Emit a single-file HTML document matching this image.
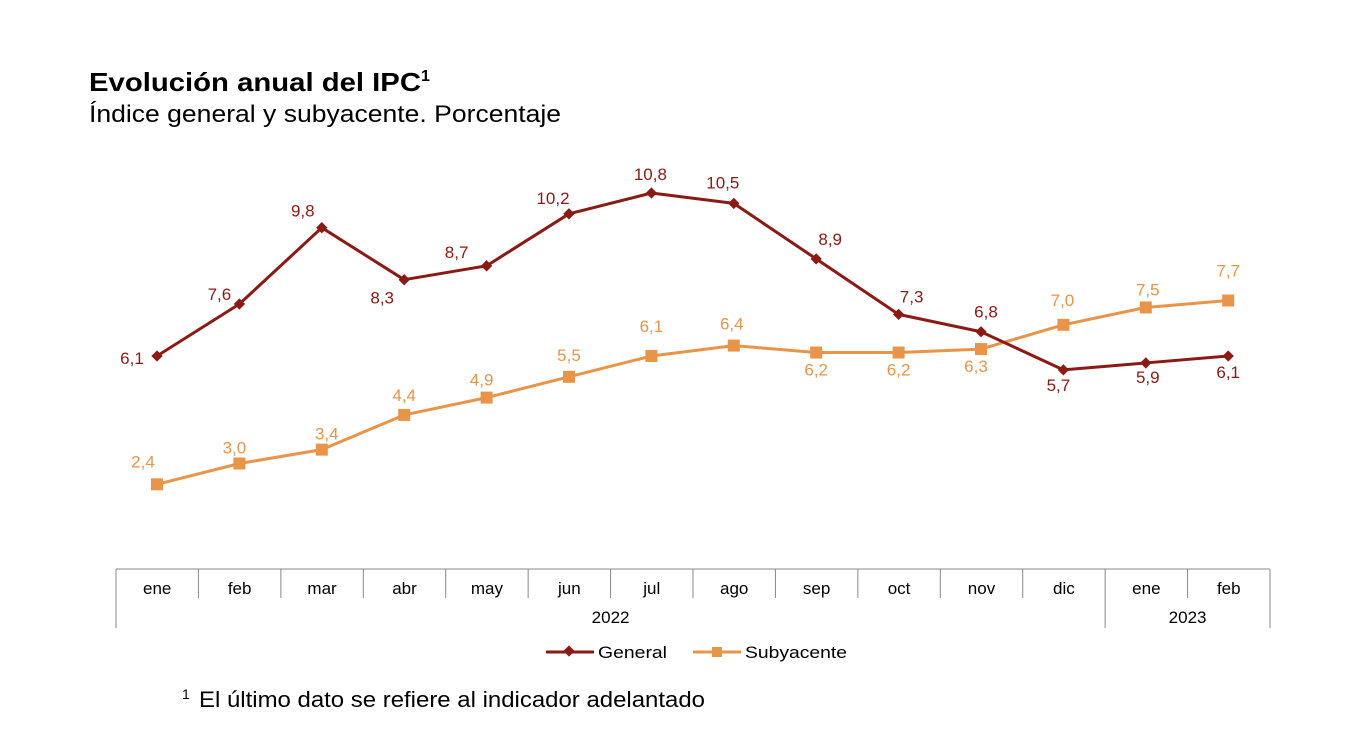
<!DOCTYPE html>
<html><head><meta charset="utf-8"><style>
body{margin:0;background:#fff;width:1367px;height:730px;overflow:hidden;font-family:"Liberation Sans",sans-serif;}
svg{position:absolute;left:0;top:0}
</style></head><body>
<svg width="1367" height="730">
<text x="89" y="91" font-size="26" font-weight="bold" fill="#000"><tspan textLength="332" lengthAdjust="spacingAndGlyphs">Evolución anual del IPC</tspan><tspan font-size="16" dy="-10">1</tspan></text>
<text x="89" y="122" font-size="24" fill="#000" textLength="472" lengthAdjust="spacingAndGlyphs">Índice general y subyacente. Porcentaje</text>
<g id="axis"></g>
<g id="lines"></g>
<g>
<g><line x1="546" y1="652" x2="594" y2="652" stroke="#8c1a14" stroke-width="3"/><rect x="565" y="647" width="8" height="8" fill="#8c1a14" transform="rotate(45 569 651)"/><text x="598" y="658" font-size="17" textLength="69" lengthAdjust="spacingAndGlyphs">General</text></g>
<g><line x1="693" y1="652" x2="741" y2="652" stroke="#e8954a" stroke-width="3"/><rect x="712" y="647" width="10" height="10" fill="#e8954a"/><text x="745" y="658" font-size="17" textLength="102" lengthAdjust="spacingAndGlyphs">Subyacente</text></g>
</g>
<text x="182" y="707" font-size="14" transform="translate(0,-8)">1</text>
<text x="199" y="707" font-size="22" textLength="506" lengthAdjust="spacingAndGlyphs">El último dato se refiere al indicador adelantado</text>
</svg>
<script>
const months=["ene","feb","mar","abr","may","jun","jul","ago","sep","oct","nov","dic","ene","feb"];
const general=[6.1,7.6,9.8,8.3,8.7,10.2,10.8,10.5,8.9,7.3,6.8,5.7,5.9,6.1];
const subyacente=[2.4,3.0,3.4,4.4,4.9,5.5,6.1,6.4,6.2,6.2,6.3,7.0,7.5,7.7];
const years=["2022","2023"];
const genOff=[[-25,8],[-20,-4],[-19,-11],[-22,24],[-30,-8],[-16,-10],[-1,-13],[-11,-15],[14,-14],[13,-12],[5,-14],[-5,21],[2,20],[0,22]];
const subOff=[[-14,-17],[-5,-10],[5,-10],[0,-14],[-5,-12],[0,-16],[0,-24],[-2,-16],[0,23],[0,23],[-5,23],[-1,-19],[2,-12],[0,-24]];
const svgNS="http://www.w3.org/2000/svg";
const x0=157,dx=82.4;
const xs=i=>x0+i*dx;
const ys=v=>356-(v-6.1)*34.68;
function el(tag,attrs,parent){const e=document.createElementNS(svgNS,tag);for(const k in attrs)e.setAttribute(k,attrs[k]);parent.appendChild(e);return e;}
const ax=document.getElementById('axis');
const L=116,R=1270,cw=(R-L)/months.length;
el('line',{x1:L,y1:569,x2:R,y2:569,stroke:'#888','stroke-width':1},ax);
for(let i=0;i<=months.length;i++){
  const x=L+i*cw;
  const full=(i==0||i==12||i==14);
  el('line',{x1:x,y1:569,x2:x,y2:full?628:598,stroke:'#888','stroke-width':1},ax);
}
months.forEach((m,i)=>{const t=el('text',{x:L+(i+0.5)*cw,y:594,'font-size':17,'text-anchor':'middle',fill:'#000'},ax);t.textContent=m;

});
[[0,12],[12,14]].forEach((r,k)=>{const t=el('text',{x:L+(r[0]+r[1])/2*cw,y:623,'font-size':17,'text-anchor':'middle',fill:'#000'},ax);t.textContent=years[k];

});
const g=document.getElementById('lines');
function series(vals,color,off,name,marker){
  const p=el('polyline',{points:vals.map((v,i)=>xs(i)+','+ys(v)).join(' '),fill:'none',stroke:color,'stroke-width':3,'stroke-linejoin':'round'},g);
  
  
  vals.forEach((v,i)=>{
    let m;
    if(marker=='d'){m=el('rect',{x:xs(i)-4,y:ys(v)-4,width:8,height:8,fill:color,transform:`rotate(45 ${xs(i)} ${ys(v)})`},g);}
    else{m=el('rect',{x:xs(i)-6,y:ys(v)-6,width:12,height:12,fill:color},g);}
    
    
    const t=el('text',{x:xs(i)+off[i][0],y:ys(v)+off[i][1],'font-size':17,'text-anchor':'middle',fill:color},g);
    t.textContent=v.toFixed(1).replace('.',',');
    
    
  });
}
series(subyacente,'#e8954a',subOff,'subyacente','s');
series(general,'#8c1a14',genOff,'general','d');
</script>
</body></html>
